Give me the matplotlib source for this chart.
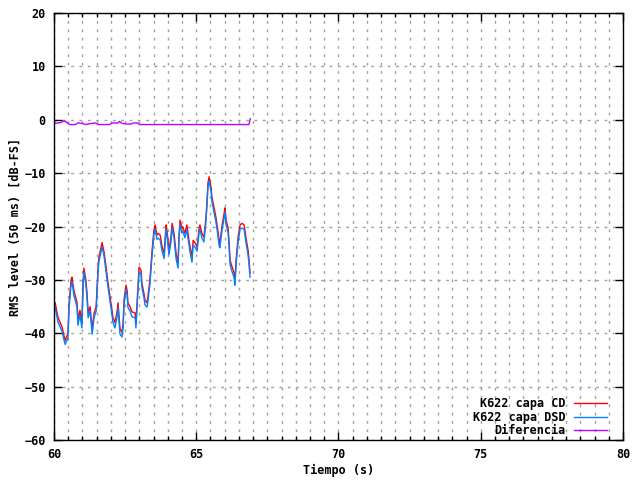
import numpy as np
import matplotlib
matplotlib.use('Agg')
import matplotlib.pyplot as plt
from matplotlib.ticker import MultipleLocator

# Tiempo (s) y nivel RMS
tiempo = [60.04, 60.14, 60.28, 60.39, 60.49, 60.53, 60.60, 60.63, 60.70, 60.81,
          60.84, 60.91, 60.98, 61.02, 61.05, 61.12, 61.16, 61.20, 61.27, 61.34,
          61.41, 61.48, 61.55, 61.58, 61.65, 61.69, 61.76, 61.83, 61.90, 61.97,
          62.04, 62.07, 62.14, 62.21, 62.25, 62.32, 62.39, 62.43, 62.46, 62.53,
          62.57, 62.60, 62.67, 62.74, 62.85, 62.88, 62.95, 62.99, 63.06, 63.09,
          63.16, 63.20, 63.27, 63.30, 63.37, 63.44, 63.51, 63.55, 63.62, 63.66,
          63.73, 63.80, 63.87, 63.94, 63.97, 64.04, 64.11, 64.15, 64.22, 64.29,
          64.36, 64.39, 64.43, 64.50, 64.53, 64.60, 64.67, 64.71, 64.78, 64.85,
          64.89, 64.96, 65.03, 65.10, 65.13, 65.20, 65.27, 65.34, 65.38, 65.41,
          65.45, 65.52, 65.55, 65.62, 65.69, 65.76, 65.80, 65.83, 65.91, 65.98,
          66.01, 66.05, 66.12, 66.15, 66.19, 66.26, 66.33, 66.36, 66.40, 66.47,
          66.54, 66.61, 66.68, 66.71, 66.75, 66.82, 66.85, 66.89]

capa_cd = [-34.3, -37.0, -38.8, -41.4, -40.0, -34.3, -30.0, -29.5, -32.0, -34.3,
           -37.5, -35.7, -38.0, -30.6, -27.8, -30.0, -32.5, -36.2, -35.0, -39.2,
           -36.2, -35.0, -27.6, -25.7, -24.0, -23.0, -24.8, -27.6, -30.6, -33.2,
           -35.7, -37.0, -38.0, -36.2, -34.3, -39.2, -39.8, -38.0, -33.8, -31.0,
           -32.0, -34.3, -35.0, -36.0, -36.2, -38.0, -31.3, -27.6, -28.2, -30.6,
           -32.5, -33.8, -34.3, -33.2, -30.0, -25.0, -20.7, -19.7, -21.6, -21.3,
           -21.6, -23.8, -25.0, -19.7, -20.7, -24.4, -22.0, -19.4, -21.3, -25.0,
           -26.9, -22.0, -18.8, -20.3, -20.1, -21.3, -19.7, -21.3, -23.8, -25.7,
           -22.6, -23.1, -23.8, -20.3, -19.7, -21.3, -22.0, -18.4, -15.0, -11.9,
           -10.7, -12.6, -14.5, -16.3, -18.2, -20.7, -22.6, -23.1, -19.7, -17.5,
           -16.5, -18.8, -20.3, -22.6, -26.3, -27.6, -28.7, -30.0, -26.3, -22.0,
           -19.7, -19.4, -19.7, -20.7, -22.2, -24.4, -25.9, -28.7]

capa_dsd = [-35.1, -37.9, -39.6, -42.1, -40.9, -35.2, -30.8, -30.3, -32.9, -35.1,
            -38.5, -36.5, -39.0, -31.4, -28.6, -30.8, -33.4, -37.1, -35.8, -40.2,
            -37.0, -35.9, -28.4, -26.5, -24.8, -23.8, -25.6, -28.5, -31.4, -34.1,
            -36.6, -37.9, -39.0, -37.1, -35.1, -40.2, -40.7, -38.9, -34.7, -31.8,
            -32.9, -35.2, -35.8, -36.9, -37.1, -39.0, -32.2, -28.5, -29.0, -31.4,
            -33.3, -34.7, -35.1, -34.0, -30.9, -25.9, -21.6, -20.5, -22.4, -22.2,
            -22.5, -24.7, -26.0, -20.6, -21.5, -25.3, -22.9, -20.2, -22.2, -26.0,
            -27.8, -22.8, -19.6, -21.2, -20.9, -22.1, -20.6, -22.2, -24.7, -26.7,
            -23.5, -23.9, -24.6, -21.1, -20.5, -22.2, -22.9, -19.2, -15.8, -12.7,
            -11.5, -13.4, -15.3, -17.2, -19.1, -21.6, -23.5, -24.0, -20.5, -18.4,
            -17.3, -19.7, -21.2, -23.5, -27.2, -28.5, -29.6, -31.0, -27.1, -22.9,
            -20.5, -20.3, -20.5, -21.6, -23.1, -25.3, -26.8, -29.5]

tiempo_dif = [60.0, 60.15, 60.25, 60.35, 60.45, 60.55, 60.75, 60.85, 61.0, 61.1,
              61.3, 61.45, 61.55, 61.95, 62.05, 62.25, 62.3, 62.4, 62.55, 62.7,
              62.8, 62.95, 63.0, 66.85, 66.9]
diferencia = [-0.7, -0.6, -0.5, -0.2, -0.5, -0.9, -0.9, -0.6, -0.7, -0.9,
              -0.7, -0.6, -0.9, -0.9, -0.6, -0.6, -0.3, -0.7, -0.8, -0.8,
              -0.6, -0.6, -0.9, -0.9, 0.2]

fuente = {'family': 'DejaVu Sans Mono', 'weight': 'bold', 'size': 8.5}

fig = plt.figure(figsize=(6.4, 4.8), dpi=100)
ax = fig.add_axes([0.0844, 0.0833, 0.8890, 0.8896])

ax.plot(tiempo, capa_cd, color='#ff0000', lw=1.0, label='K622 capa CD')
ax.plot(tiempo, capa_dsd, color='#0080ff', lw=1.0, label='K622 capa DSD')
ax.plot(tiempo_dif, diferencia, color='#c000ff', lw=1.0, label='Diferencia')

ax.set_xlim(60, 80)
ax.set_ylim(-60, 20)
ax.xaxis.set_major_locator(MultipleLocator(5))
ax.xaxis.set_minor_locator(MultipleLocator(0.5))
ax.yaxis.set_major_locator(MultipleLocator(10))

ax.grid(which='both', axis='x', color='#a0a0a0', linestyle=(0, (2, 4)), lw=1.0)
ax.grid(which='major', axis='y', color='#a0a0a0', linestyle=(0, (2, 4)), lw=1.0)

ax.tick_params(which='both', direction='in', top=True, right=True, width=1.0,
               color='black', pad=6)
ax.tick_params(which='major', length=6)
ax.tick_params(which='minor', length=3)
for lab in ax.get_xticklabels() + ax.get_yticklabels():
    lab.set_fontproperties(fuente)
for s in ax.spines.values():
    s.set_linewidth(1.0)

ax.set_xlabel('Tiempo (s)', fontdict=fuente, labelpad=2)
ax.set_ylabel('RMS level (50 ms) [dB-FS]', fontdict=fuente, labelpad=2)

leg = ax.legend(loc='lower right', bbox_to_anchor=(0.972, 0.006),
                frameon=False, markerfirst=False, prop=fuente,
                handlelength=2.8, handletextpad=0.7, labelspacing=0.05,
                borderaxespad=0.0, borderpad=0.0)

fig.savefig('out.png', dpi=100)
